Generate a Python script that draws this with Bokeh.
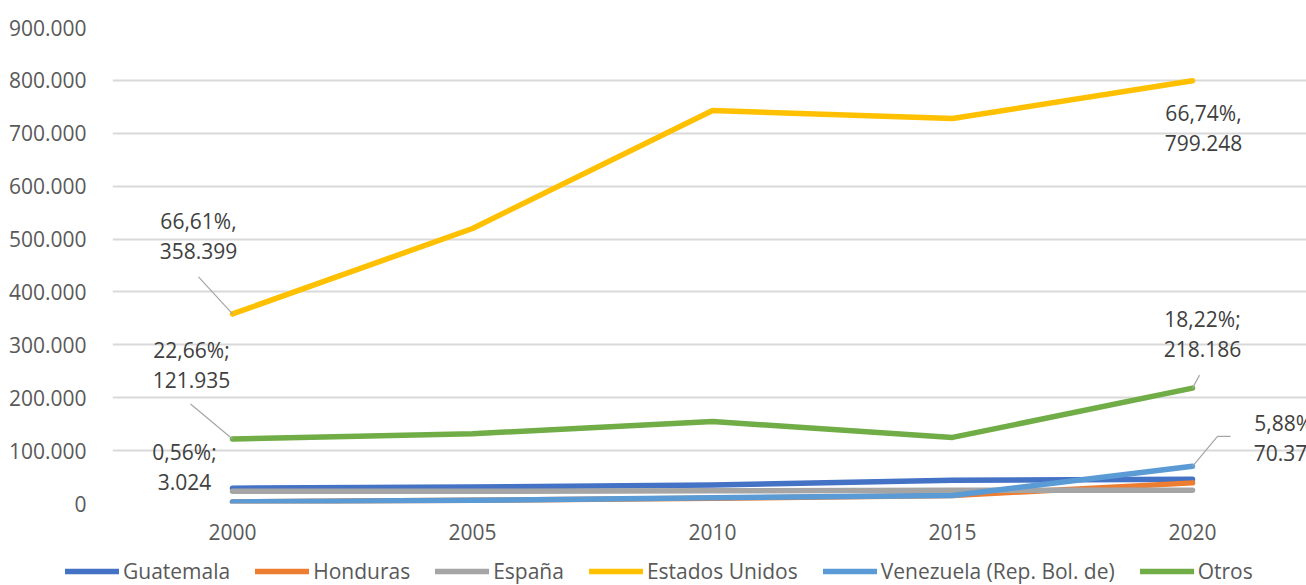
from bokeh.plotting import figure
from bokeh.layouts import column
from bokeh.models import Range1d, FixedTicker, Legend, LegendItem, ColumnDataSource
from bokeh.core.properties import value
from bokeh.embed import file_html
from bokeh.resources import INLINE

# Series values per census year
years = [2000, 2005, 2010, 2015, 2020]
guatemala = [29000, 31000, 35000, 44000, 46000]
honduras = [3000, 6000, 10000, 15000, 39000]
espana = [23000, 23000, 24000, 25000, 25000]
estados_unidos = [358399, 520000, 743000, 728000, 799248]
venezuela = [3024, 6000, 11000, 15000, 70377]
otros = [121935, 132000, 155000, 125000, 218186]

series_names = ["Guatemala", "Honduras", "España", "Estados Unidos",
                "Venezuela (Rep. Bol. de)", "Otros"]
series_values = [guatemala, honduras, espana, estados_unidos, venezuela, otros]
series_colors = ["#4472C4", "#ED7D31", "#A5A5A5", "#FFC000", "#5B9BD5", "#70AD47"]

y_ticks = [0, 100000, 200000, 300000, 400000, 500000, 600000, 700000, 800000, 900000]
y_tick_labels = ["0", "100.000", "200.000", "300.000", "400.000", "500.000",
                 "600.000", "700.000", "800.000", "900.000"]

# Data labels: series index, year index, share text
label_series = [3, 3, 5, 5, 4, 4]
label_year_idx = [0, 4, 0, 4, 0, 4]
label_pct = ["66,61%,", "66,74%,", "22,66%;", "18,22%;", "0,56%;", "5,88%;"]

FONT = "Open Sans"
W = 1306
H_MAIN, H_LEG = 548, 37
LEFT, TOP, BOTTOM = 112, 27, 45
X0, X1 = 1997.5, 2022.375
Y0, Y1 = 0, 900000
LINE_W = 5.5

p = figure(width=W, height=H_MAIN, output_backend="svg", toolbar_location=None,
           x_range=Range1d(X0, X1), y_range=Range1d(Y0, Y1),
           min_border_left=LEFT, min_border_right=0, min_border_top=TOP,
           min_border_bottom=BOTTOM)
p.frame_align = False
p.outline_line_color = None
p.background_fill_color = "white"
p.border_fill_color = "white"

# axes
p.xaxis.ticker = FixedTicker(ticks=years)
p.xaxis.axis_line_color = None
p.xaxis.major_tick_line_color = None
p.xaxis.minor_tick_line_color = None
p.xaxis.major_label_standoff = 14
p.xaxis.major_label_text_font = FONT
p.xaxis.major_label_text_font_size = "21px"
p.xaxis.major_label_text_color = "#595959"

p.yaxis.ticker = FixedTicker(ticks=y_ticks)
p.yaxis.major_label_overrides = {t: l for t, l in zip(y_ticks, y_tick_labels)}
p.yaxis.axis_line_color = None
p.yaxis.major_tick_line_color = None
p.yaxis.minor_tick_line_color = None
p.yaxis.major_label_standoff = 20
p.yaxis.major_label_text_font = FONT
p.yaxis.major_label_text_font_size = "21px"
p.yaxis.major_label_text_color = "#595959"

p.xgrid.grid_line_color = None
p.ygrid.grid_line_color = "#D9D9D9"
p.ygrid.grid_line_width = 2

# series lines
for name, vals, col in zip(series_names, series_values, series_colors):
    p.line(years, vals, line_color=col, line_width=LINE_W,
           line_cap="round", line_join="round")

# pixel-to-data conversion for leader lines
frame_w = W - LEFT
frame_h = H_MAIN - TOP - BOTTOM
XPX = (X1 - X0) / frame_w
YPX = (Y1 - Y0) / frame_h

# leader lines (offsets in screen pixels, up is positive)
leader_pts = [(0, [(-34, 37)]), (2, [(-42, 35)]), (3, [(7, 13)]), (5, [(25, 30), (38, 30)])]
lx, ly = [], []
for li, offs in leader_pts:
    s, k = label_series[li], label_year_idx[li]
    px, py = years[k], series_values[s][k]
    lx.append([px] + [px + dx * XPX for dx, dy in offs])
    ly.append([py] + [py + dy * YPX for dx, dy in offs])
p.multi_line(lx, ly, line_color="#A6A6A6", line_width=1.2)

# data labels
lab_x = [years[k] for k in label_year_idx]
lab_y = [series_values[s][k] for s, k in zip(label_series, label_year_idx)]
lab_val = [f"{v:,}".replace(",", ".") for v in lab_y]
dx = [-34, 11, -41, 10, -48, 94]
dy1 = [-93, 32, -89, -69, -50, -43]
dy2 = [d + 30 for d in dy1]
src = ColumnDataSource(dict(x=lab_x, y=lab_y, pct=label_pct, val=lab_val,
                            dx=dx, dy1=dy1, dy2=dy2))
for col_text, col_dy in (("pct", "dy1"), ("val", "dy2")):
    p.text(x="x", y="y", text=col_text, source=src, x_offset="dx", y_offset=col_dy,
           text_font=value(FONT), text_font_size="21px", text_color="#404040",
           text_align="center", text_baseline="middle")

# legend strip under the chart; swatch renderers sit outside the visible range
lg = figure(width=W, height=H_LEG, output_backend="svg", toolbar_location=None,
            x_range=Range1d(0, 1), y_range=Range1d(0, 1),
            min_border_left=0, min_border_right=0, min_border_top=0, min_border_bottom=0)
lg.frame_align = False
lg.axis.visible = False
lg.grid.visible = False
lg.outline_line_color = None
lg.border_fill_color = "white"
lg.background_fill_color = "white"
swatches = [lg.line(x=[-2, -1], y=[-2, -1], line_color=c, line_width=LINE_W,
                    line_cap="round") for c in series_colors]
legend = Legend(items=[LegendItem(label=n, renderers=[r]) for n, r in zip(series_names, swatches)],
                orientation="horizontal", location=(65, 0),
                glyph_width=54, glyph_height=20, label_standoff=4, spacing=25,
                padding=0, margin=0, border_line_color=None, background_fill_alpha=0,
                label_text_font=FONT, label_text_font_size="21px",
                label_text_color="#595959")
lg.add_layout(legend, "center")

layout = column(p, lg, spacing=0)
open("out.html", "w").write(file_html(layout, INLINE))
